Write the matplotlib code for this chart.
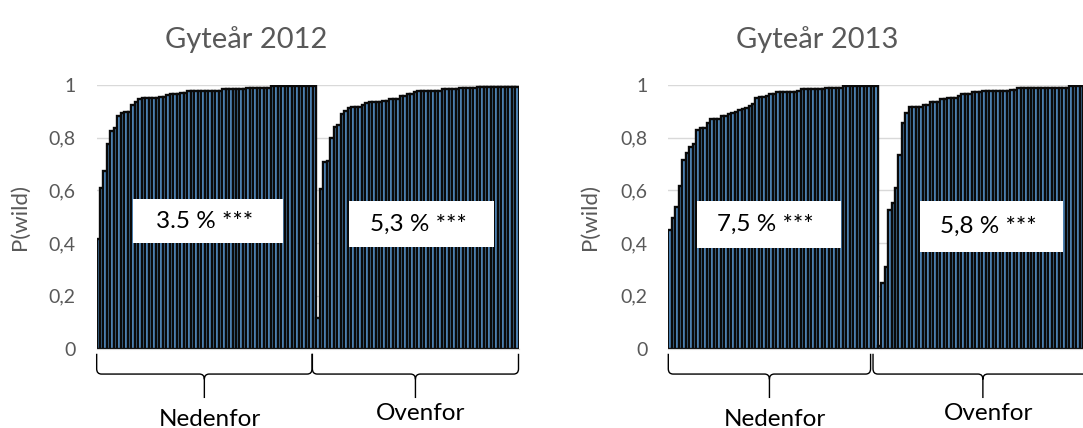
import matplotlib
matplotlib.use('Agg')
import matplotlib.pyplot as plt
import numpy as np
from matplotlib.path import Path
from matplotlib.patches import PathPatch, Rectangle
from matplotlib.transforms import blended_transform_factory

plt.rcParams['font.family'] = ['Lato', 'DejaVu Sans']

# sorted P(wild) per fish
ned_2012 = [0.414, 0.61, 0.675, 0.775, 0.825, 0.838, 0.884, 0.892, 0.896, 0.899,
            0.924, 0.937, 0.946, 0.949, 0.949, 0.949, 0.949, 0.949, 0.953, 0.953,
            0.962, 0.967, 0.967, 0.967, 0.971, 0.971, 0.978, 0.978, 0.978, 0.978,
            0.978, 0.978, 0.978, 0.978, 0.978, 0.978, 0.984, 0.984, 0.984, 0.984,
            0.984, 0.984, 0.984, 0.99, 0.99, 0.99, 0.99, 0.99, 0.99, 0.99,
            0.996, 0.996, 0.996, 0.996, 0.996, 0.996, 0.996, 0.996, 0.996, 0.996,
            0.996, 0.996, 0.996]
ove_2012 = [0.116, 0.605, 0.706, 0.711, 0.80, 0.842, 0.848, 0.889, 0.903, 0.911,
            0.915, 0.918, 0.918, 0.924, 0.933, 0.937, 0.937, 0.937, 0.937, 0.941,
            0.941, 0.946, 0.946, 0.946, 0.959, 0.959, 0.966, 0.966, 0.975, 0.978,
            0.978, 0.978, 0.978, 0.978, 0.978, 0.978, 0.985, 0.985, 0.985, 0.985,
            0.985, 0.989, 0.989, 0.989, 0.989, 0.989, 0.992, 0.992, 0.992, 0.992,
            0.992, 0.992, 0.992, 0.992, 0.992, 0.992, 0.992, 0.992]
ned_2013 = [0.449, 0.496, 0.538, 0.618, 0.715, 0.743, 0.766, 0.776, 0.829, 0.835,
            0.835, 0.857, 0.87, 0.87, 0.87, 0.882, 0.882, 0.89, 0.893, 0.896,
            0.905, 0.909, 0.914, 0.922, 0.927, 0.949, 0.953, 0.953, 0.959, 0.966,
            0.966, 0.972, 0.972, 0.972, 0.972, 0.972, 0.972, 0.978, 0.984, 0.984,
            0.984, 0.984, 0.984, 0.984, 0.984, 0.99, 0.99, 0.99, 0.99, 0.99,
            0.995, 0.995, 0.995, 0.995, 0.995, 0.995, 0.995, 0.995, 0.995, 0.995]
ove_2013 = [0.01, 0.25, 0.308, 0.525, 0.554, 0.608, 0.734, 0.857, 0.892, 0.918,
            0.918, 0.918, 0.918, 0.924, 0.924, 0.937, 0.937, 0.937, 0.947, 0.947,
            0.952, 0.952, 0.952, 0.959, 0.966, 0.966, 0.966, 0.972, 0.972, 0.972,
            0.977, 0.977, 0.977, 0.977, 0.977, 0.977, 0.977, 0.977, 0.982, 0.982,
            0.987, 0.987, 0.987, 0.987, 0.987, 0.987, 0.99, 0.99, 0.99, 0.99,
            0.99, 0.99, 0.99, 0.99, 0.99, 0.996, 0.996, 0.996, 0.996, 0.996,
            0.996]

titles = ['Gyteår 2012', 'Gyteår 2013']
groups = ['Nedenfor', 'Ovenfor']
pct_labels = [['3.5 % ***', '5,3 % ***'], ['7,5 % ***', '5,8 % ***']]
yticks = [0, 0.2, 0.4, 0.6, 0.8, 1]
ytick_labels = ['0', '0,2', '0,4', '0,6', '0,8', '1']

W, H = 1083, 428
fig = plt.figure(figsize=(W / 100, H / 100), dpi=100)
grey = '#595959'


def brace(ax, a, b, ytop=-0.02, ymid=-0.097, ytip=-0.188, rh=1.4, rv=0.02):
    xc = (a + b) / 2
    verts = [(a, ytop), (a, ymid + rv), (a, ymid), (a + rh, ymid),
             (xc - rh, ymid), (xc, ymid), (xc, ymid - rv), (xc, ytip),
             (xc, ymid - rv), (xc, ymid), (xc + rh, ymid),
             (b - rh, ymid), (b, ymid), (b, ymid + rv), (b, ytop)]
    codes = [Path.MOVETO, Path.LINETO, Path.CURVE3, Path.CURVE3,
             Path.LINETO, Path.CURVE3, Path.CURVE3, Path.LINETO,
             Path.MOVETO, Path.CURVE3, Path.CURVE3,
             Path.LINETO, Path.CURVE3, Path.CURVE3, Path.LINETO]
    tr = blended_transform_factory(ax.transData, ax.transAxes)
    ax.add_patch(PathPatch(Path(verts, codes), transform=tr, fill=False,
                           edgecolor='black', lw=1.0, clip_on=False))
    return xc


charts = [
    dict(data=[ned_2012, ove_2012], left=96.5, title_x=246, ylab_x=20,
         braces=[(-0.45, 61.3), (61.4, 120.5)],
         boxes=[(10, 53, 0.40, 0.567), (71.9, 113.5, 0.385, 0.56)],
         lab_dy=[-0.268, -0.248]),
    dict(data=[ned_2013, ove_2013], left=668.3, title_x=817, ylab_x=590,
         braces=[(-0.5, 57.5), (58.2, 121.2)],
         boxes=[(7.6, 49.0, 0.381, 0.56), (71.7, 112.6, 0.366, 0.56)],
         lab_dy=[-0.268, -0.248]),
]

for k, ch in enumerate(charts):
    ax = fig.add_axes([ch['left'] / W, (H - 348.5) / H, 422 / W, 263.5 / H])
    vals = ch['data'][0] + ch['data'][1]
    x = np.arange(len(vals))
    ax.bar(x, vals, width=1.0, color='#5B9BD5', edgecolor='#0a0a0a', lw=1.7, zorder=2)
    ax.set_xlim(-0.5, 120.5)
    ax.set_ylim(0, 1)
    ax.set_yticks(yticks)
    ax.set_yticklabels(ytick_labels)
    ax.tick_params(axis='y', length=0, pad=15, labelsize=14, labelcolor=grey)
    ax.set_xticks([])
    for s in ['top', 'right', 'left']:
        ax.spines[s].set_visible(False)
    ax.spines['bottom'].set_color('#D9D9D9')
    ax.grid(axis='y', color='#D9D9D9', lw=1.0, zorder=0)
    ax.set_axisbelow(True)

    # % boxes
    tr = blended_transform_factory(ax.transData, ax.transAxes)
    for (x0, x1, y0, y1), lab in zip(ch['boxes'], pct_labels[k]):
        ax.add_patch(Rectangle((x0, y0), x1 - x0, y1 - y0, facecolor='white',
                               edgecolor='none', zorder=3))
        ax.text((x0 + x1) / 2 - 1, (y0 + y1) / 2, lab, ha='center', va='center',
                fontsize=17.5, color='black', zorder=4)

    # braces and group labels
    for (a, b), g, dy in zip(ch['braces'], groups, ch['lab_dy']):
        xc = brace(ax, a, b)
        ax.text(xc + 1.5, dy, g, transform=tr, ha='center', va='center',
                fontsize=17.5, color='black', clip_on=False)

    fig.text(ch['title_x'] / W, 1 - 40 / H, titles[k], ha='center', va='center',
             fontsize=21, color=grey)
    fig.text(ch['ylab_x'] / W, 1 - 217 / H, 'P(wild)', ha='center', va='center',
             rotation=90, fontsize=16, color=grey)

fig.savefig('out.png', dpi=100)
